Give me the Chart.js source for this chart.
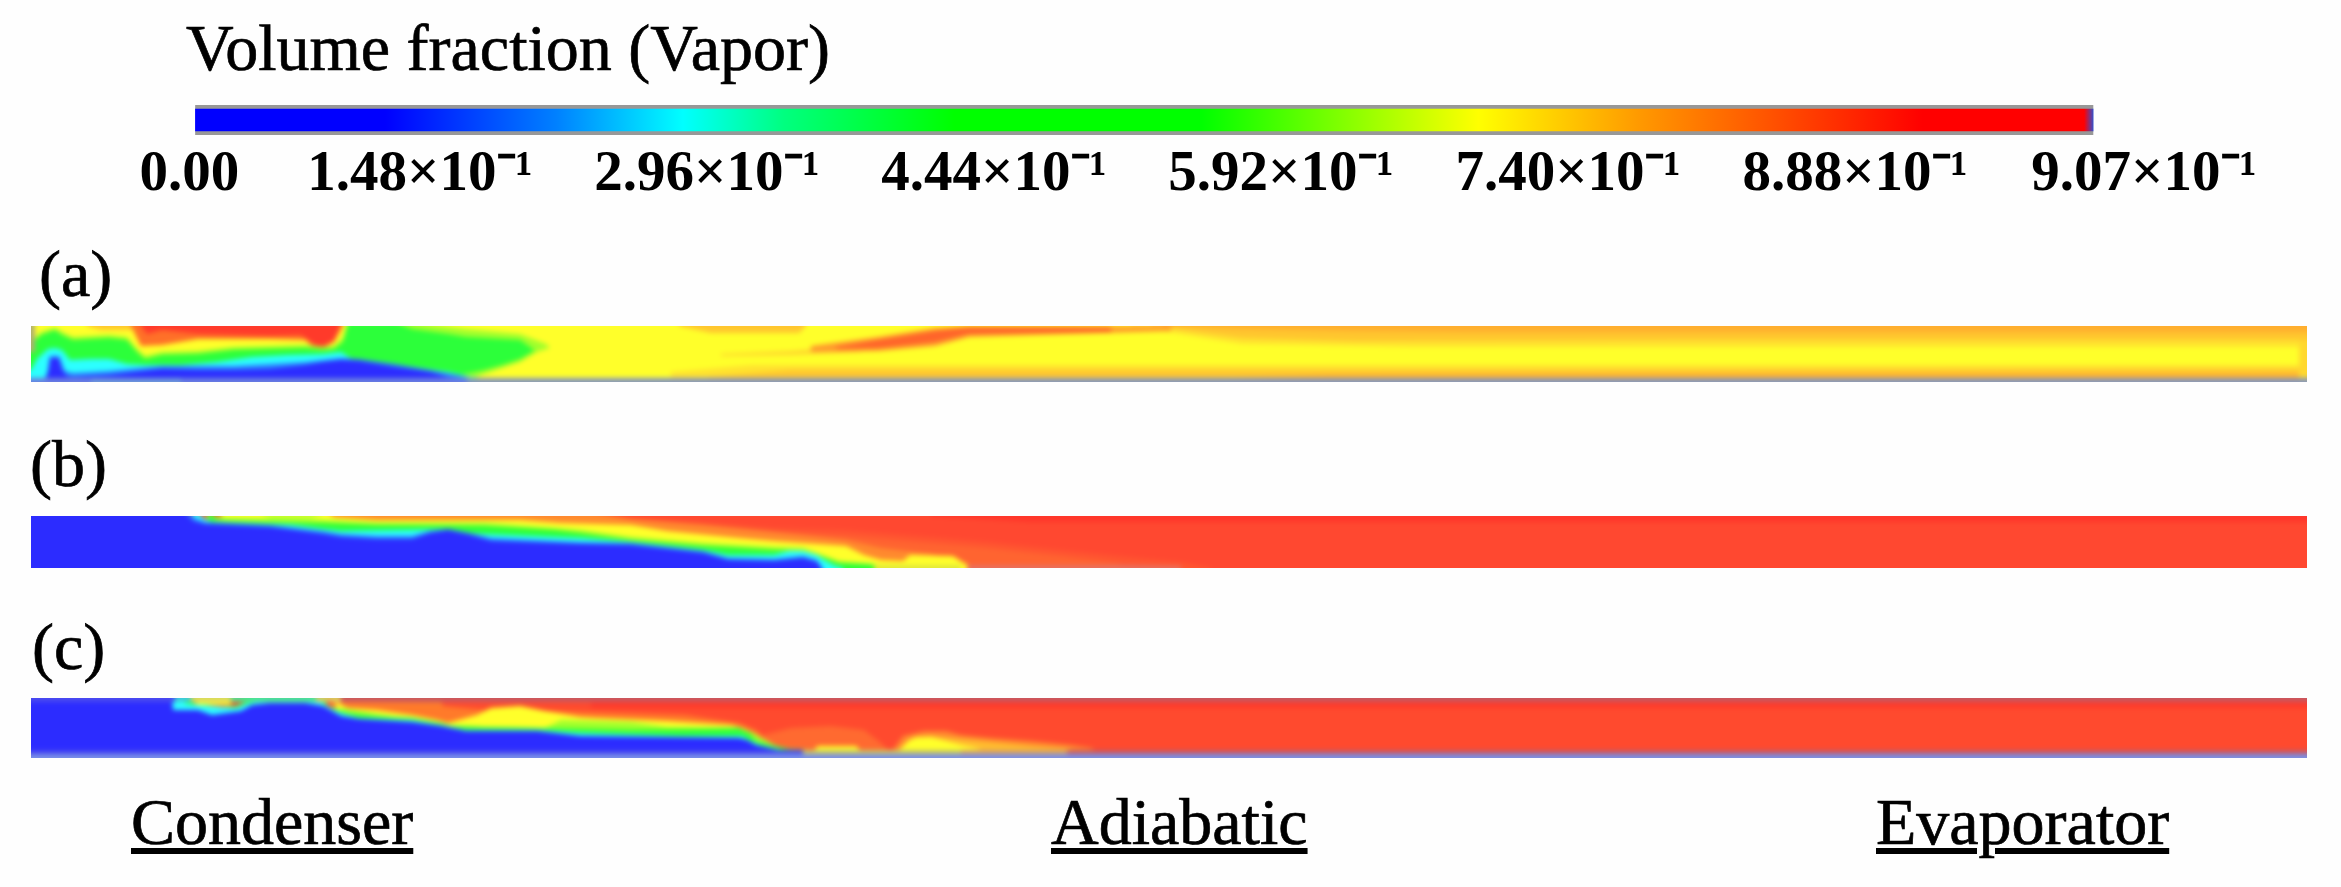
<!DOCTYPE html>
<html lang="en">
<head>
<meta charset="UTF-8">
<title>Volume fraction (Vapor)</title>
<script src="https://cdn.jsdelivr.net/npm/chart.js"></script>
<style>
    body { margin: 0; background: #fefefe; width: 2341px; height: 887px; overflow: hidden; position: relative; }
    .label { position: absolute; font-family: 'Liberation Serif', serif; color: #000; font-size: 66px; line-height: 1; white-space: nowrap; -webkit-text-stroke: 0.7px #000; }
    .strip { position: absolute; overflow: hidden; }
    .strip canvas { position: absolute; left: -8px; top: -8px; filter: blur(2.4px); }
    #colorbar { position: absolute; left: 0; top: 105px; }
</style>
</head>
<body>
<div class="label" style="left:186px;top:15px">Volume fraction (Vapor)</div>
<div class="label" style="left:39px;top:241px">(a)</div>
<div class="label" style="left:30px;top:431px">(b)</div>
<div class="label" style="left:32px;top:614px">(c)</div>
<div class="label" style="left:131px;top:789px"><u>Condenser</u></div>
<div class="label" style="left:1051px;top:789px"><u>Adiabatic</u></div>
<div class="label" style="left:1876px;top:789px"><u>Evaporator</u></div>
<canvas id="colorbar" width="2341" height="95"></canvas>

<script>
// colour bar
const cbLabels = ['0.00', '1.48×10⁻¹', '2.96×10⁻¹', '4.44×10⁻¹', '5.92×10⁻¹', '7.40×10⁻¹', '8.88×10⁻¹', '9.07×10⁻¹'];
const cbTickAt = [0.029, 0.148, 0.296, 0.444, 0.592, 0.740, 0.888, 1.037];
const cbRange = [0.032, 1.011];
const cbStops = [0, 0.10, 0.19, 0.257, 0.31, 0.40, 0.53, 0.676, 0.76, 0.91, 0.995, 1];
const cbColors = ['#0000ff', '#0000ff', '#0080ff', '#00ffff', '#00ff80', '#00ff00', '#00ff00', '#ffff00', '#ff9a00', '#ff0000', '#ff0000', '#3050d0'];

const BLUE = '#2c2cff', SKY = '#2c80ff', CYAN = '#2cffff', GREEN = '#2cff3a', LIME = '#a0ff2c', YELLOW = '#ffff2a';

// strip (a): x = axial position, y = height above the wall
const aBase = [[-8, 70], [2284, 70]];
const aFadeTop3 = [[1100, 56], [1211, 38], [1381, 35], [2284, 35]];
const aFadeTop2 = [[1120, 56], [1211, 44], [1324, 41], [1665, 42], [2284, 42]];
const aFadeTop1 = [[1131, 56], [1211, 53], [1324, 51], [1438, 50], [2284, 50]];
const aSliverMid = [[648, 56], [680, 49], [768, 49], [775, 56]];
const aSliverLeft = [[56, 56], [70, 52], [100, 52], [112, 56]];
const aWedgeUp = [[690, 28], [760, 31], [830, 37]];
const aWedgeLow = [[690, 26], [760, 27], [830, 30]];
const aHaloUp = [[780, 36], [847, 45], [904, 54], [938, 56], [1140, 56]];
const aHaloLow = [[780, 30], [847, 31], [904, 36], [938, 45], [1140, 51]];
const aStreakUp = [[805, 35], [847, 42], [904, 51], [938, 55], [1080, 55]];
const aStreakLow = [[805, 33], [847, 34], [904, 40], [938, 48], [1080, 50]];
const aFadeLow3 = [[640, 10], [720, 17], [1324, 17], [2284, 17]];
const aFadeLow2 = [[677, 5], [760, 12], [1324, 12], [2284, 13]];
const aFadeLow1 = [[1200, 4], [1300, 7], [1665, 8], [2284, 8]];
const aEnd = [[2268, 42], [2284, 42]];
const aOrange = [[100, 56], [110, 36], [131, 37], [167, 43], [203, 43], [239, 43], [274, 42], [282, 35], [292, 34], [303, 40], [312, 56]];
const aRed = [[110, 56], [116, 48], [131, 52], [167, 48], [203, 47], [239, 46], [270, 47], [285, 37], [292, 36], [303, 42], [309, 56]];
const aLime = [[-8, 40], [0, 40], [10, 50], [24, 54], [31, 50], [42, 45], [60, 46], [78, 47], [96, 45], [106, 33], [114, 26], [131, 30], [167, 31], [203, 35], [239, 36], [274, 37], [292, 35], [303, 36], [312, 44], [317, 60], [381, 60], [435, 53], [489, 48], [515, 38], [528, 25], [532, 0]];
const aGreen = [[-8, 38], [0, 38], [10, 47], [24, 52], [31, 47], [42, 42], [60, 43], [78, 44], [96, 42], [106, 30], [114, 23], [131, 27], [167, 28], [203, 32], [239, 33], [274, 34], [292, 32], [303, 33], [312, 40], [317, 60], [364, 60], [381, 53], [417, 48], [435, 45], [489, 42], [506, 30], [512, 0]];
const aLimeLow = [[425, 6], [453, 12], [471, 17], [489, 23], [506, 33], [518, 36], [524, 0]];
const aYellowLow = [[440, 3], [453, 8], [471, 14], [489, 20], [506, 30], [524, 36], [560, 36], [565, 0]];
const aCyan = [[-8, 12], [0, 12], [6, 23], [17, 33], [24, 34], [31, 32], [39, 22], [60, 23], [78, 23], [96, 18], [114, 17], [149, 17], [185, 20], [221, 25], [256, 27], [292, 28], [310, 30], [321, 23], [346, 18], [381, 15], [417, 10], [439, 5], [449, 4], [452, 0]];
const aSky = [[16, 6], [19, 26], [28, 26], [34, 11], [42, 9], [78, 11], [131, 16], [203, 16], [274, 20], [310, 24], [328, 23], [364, 18], [399, 12], [425, 7], [440, 4]];
const aBlue = [[14, 4], [17, 10], [19, 24], [28, 24], [31, 12], [36, 6], [42, 5], [60, 6], [78, 7], [131, 13], [167, 12], [203, 12], [239, 13], [274, 17], [292, 20], [310, 22], [328, 21], [364, 15], [399, 10], [417, 5], [431, 4], [440, 0]];
const aWallLeft = [[-8, 4], [440, 4]];
const aWallMid = [[60, 4], [150, 4]];
const aWallRight = [[436, 4], [2284, 4]];
const aEdgeUp = [[-8, 60], [4, 60]];
const aEdgeLow = [[-8, 30], [4, 30]];

// strip (b)
const bBase = [[-8, 70], [2284, 70]];
const bRedTop = [[900, 52], [1000, 46], [2284, 46]];
const bOrangeFar = [[500, 60], [600, 50], [672, 46], [743, 40], [815, 38], [886, 32], [957, 26], [1029, 18], [1086, 12], [1150, 6], [1180, 0]];
const bOrangeMid = [[520, 60], [600, 47], [672, 42], [743, 36], [815, 32], [886, 26], [957, 20], [1029, 12], [1086, 5], [1100, 0]];
const bOrangeNear = [[285, 60], [540, 60], [600, 49], [672, 43], [743, 36], [815, 28], [850, 20], [900, 14], [945, 0]];
const bYellow = [[190, 60], [292, 60], [303, 51], [346, 48], [417, 48], [489, 48], [529, 45], [600, 43], [636, 37], [708, 30], [743, 27], [815, 22], [833, 13], [850, 8], [872, 7], [879, 13], [922, 12], [933, 5], [945, 0]];
const bTopLime = [[230, 54], [240, 49], [280, 49], [292, 54]];
const bLime = [[176, 60], [184, 52], [195, 50], [292, 48], [346, 45], [453, 45], [524, 40], [549, 38], [600, 31], [672, 25], [708, 23], [743, 21], [772, 20], [786, 15], [808, 7], [850, 3], [870, 0]];
const bGreen = [[178, 60], [184, 48], [196, 47], [292, 45], [346, 43], [453, 42], [524, 38], [549, 35], [600, 28], [672, 22], [708, 20], [743, 18], [772, 17], [786, 13], [808, 5], [836, 4], [850, 2], [860, 0]];
const bCyan = [[162, 60], [174, 49], [181, 46], [260, 43], [292, 39], [310, 37], [381, 38], [417, 39], [439, 35], [453, 34], [549, 30], [600, 26], [672, 18], [697, 13], [743, 13], [758, 17], [772, 17], [786, 13], [793, 8], [804, 2], [812, 0]];
const bSky = [[154, 60], [164, 50], [174, 46], [239, 43], [292, 37], [310, 34], [346, 32], [381, 32], [399, 37], [417, 39], [439, 35], [460, 30], [549, 26], [600, 25], [672, 17], [697, 10], [743, 9], [772, 12], [786, 8], [792, 0]];
const bBlue = [[-8, 60], [150, 60], [162, 47], [174, 44], [239, 41], [292, 34], [310, 31], [346, 29], [381, 29], [399, 35], [417, 38], [439, 33], [460, 27], [549, 24], [600, 23], [672, 15], [697, 8], [743, 7], [772, 10], [786, 6], [790, 0]];
const bSand = [[843, 3], [930, 3]];
const bWall = [[936, 3], [1090, 3], [1150, 2]];

// strip (c)
const cBase = [[-8, 70], [2284, 70]];
const cRedTop = [[560, 50], [2284, 50]];
const cOrange = [[300, 70], [405, 70], [412, 52], [453, 48], [529, 47], [654, 43], [708, 35], [725, 28], [743, 14], [760, 0]];
const cBlobFar = [[720, 20], [760, 30], [800, 32], [833, 28], [850, 15], [865, 0]];
const cLobeOrange = [[862, 8], [872, 22], [893, 27], [915, 27], [930, 23], [960, 20], [1000, 17], [1040, 13], [1060, 10], [1070, 5]];
const cLobeAmber = [[870, 8], [880, 20], [900, 22], [930, 19], [1000, 12], [1040, 9], [1045, 5]];
const cLobeYellow = [[868, 8], [877, 17], [886, 21], [900, 21], [915, 17], [930, 13], [945, 10], [960, 5]];
const cPatchYellow = [[780, 5], [787, 12], [825, 12], [832, 5]];
const cYellow = [[305, 56], [317, 50], [346, 48], [381, 43], [406, 38], [417, 35], [446, 43], [460, 50], [489, 52], [514, 47], [549, 41], [565, 40], [636, 37], [700, 33], [711, 30], [722, 25], [743, 13], [750, 10], [756, 0]];
const cLime = [[310, 50], [346, 44], [381, 38], [417, 33], [453, 31], [514, 30], [530, 38], [600, 36], [636, 31], [700, 30], [720, 26], [740, 14], [752, 8], [758, 0]];
const cGreen = [[148, 70], [156, 60], [165, 54], [190, 51], [205, 52], [215, 56], [222, 70], [290, 70], [296, 52], [317, 45], [346, 42], [381, 40], [410, 35], [420, 32], [453, 31], [510, 30], [600, 28], [672, 29], [708, 30], [718, 25], [725, 17], [740, 13], [758, 9], [779, 8], [790, 0]];
const cLensUp = [[165, 56], [200, 56]];
const cLensLow = [[165, 53], [200, 53]];
const cCyan = [[140, 70], [155, 54], [181, 52], [205, 50], [215, 54], [225, 56], [290, 56], [296, 52], [303, 48], [310, 45], [328, 40], [381, 38], [410, 33], [435, 28], [506, 28], [549, 25], [650, 22], [711, 22], [718, 18], [729, 13], [750, 8], [772, 4], [780, 0]];
const cBlue = [[-8, 70], [140, 70], [142, 48], [167, 48], [181, 43], [210, 47], [221, 53], [239, 55], [274, 55], [292, 52], [310, 42], [328, 39], [381, 36], [410, 32], [435, 27], [506, 27], [549, 22], [708, 20], [716, 18], [725, 13], [743, 9], [758, 5], [770, 0]];
const cBandOlive = [[772, 8], [930, 8]];
const cBandSand = [[930, 8], [1040, 8]];
const cBandRed = [[1036, 8], [2284, 8]];
const cBandBlue = [[-8, 8], [772, 8]];
const cFoot = [[-8, 4], [2284, 4]];
const cCapBlue = [[-8, 56], [144, 56]];
const cCapCyan = [[144, 56], [160, 56]];
const cCapOlive = [[160, 56], [200, 56]];
const cCapTeal = [[200, 56], [285, 56]];
const cCapOlive2 = [[285, 56], [310, 56]];
const cCapRed = [[310, 56], [2284, 56]];

// each layer: colour, boundary, then what it fills to ('start', 'end' or a second boundary)
const aLayers = [
    [YELLOW, aBase, 'start'],
    ['#ffe22e', aFadeTop3, 'end'], ['#ffc62e', aFadeTop2, 'end'], ['#ffae2e', aFadeTop1, 'end'],
    ['#ffc62e', aSliverMid, 'end'], ['#ffc62e', aSliverLeft, 'end'],
    ['#ffd42e', aWedgeUp, aWedgeLow], ['#ff9a2c', aHaloUp, aHaloLow], ['#ff642a', aStreakUp, aStreakLow],
    ['#ffe22e', aFadeLow3, 'start'], ['#ffc62e', aFadeLow2, 'start'], ['#ffae2e', aFadeLow1, 'start'],
    ['#ffd82e', aEnd, 'start'],
    ['#ff7028', aOrange, 'end'], ['#ff3a2a', aRed, 'end'],
    [LIME, aLime, 'start'], [GREEN, aGreen, 'start'], [LIME, aLimeLow, 'start'], [YELLOW, aYellowLow, 'start'],
    [CYAN, aCyan, 'start'], [SKY, aSky, 'start'], [BLUE, aBlue, 'start'],
    ['#6a7fe0', aWallLeft, 'start'], ['#6f9ad8', aWallMid, 'start'], ['#8899bb', aWallRight, 'start'],
    ['#b0b070', aEdgeUp, aEdgeLow]
];
const bLayers = [
    ['#ff4830', bBase, 'start'], ['#ff362a', bRedTop, 'end'],
    ['#ff5530', bOrangeFar, 'start'], ['#ff6430', bOrangeMid, 'start'], ['#ff8a2e', bOrangeNear, 'start'],
    [YELLOW, bYellow, 'start'], ['#c8ff2c', bTopLime, 'end'],
    [LIME, bLime, 'start'], [GREEN, bGreen, 'start'], [CYAN, bCyan, 'start'], [SKY, bSky, 'start'], [BLUE, bBlue, 'start'],
    ['#e0e83a', bSand, 'start'], ['#e87060', bWall, 'start']
];
const cLayers = [
    ['#ff4a2e', cBase, 'start'], ['#ff3a2a', cRedTop, 'end'],
    ['#ff7a2a', cOrange, 'start'], ['#ff6a30', cBlobFar, 'start'],
    ['#ff8a2e', cLobeOrange, 'start'], ['#ffbc2e', cLobeAmber, 'start'], [YELLOW, cLobeYellow, 'start'], [YELLOW, cPatchYellow, 'start'],
    [YELLOW, cYellow, 'start'], [LIME, cLime, 'start'], [GREEN, cGreen, 'start'], [YELLOW, cLensUp, cLensLow],
    [CYAN, cCyan, 'start'], [BLUE, cBlue, 'start'],
    ['#4444f0', cBandBlue, 'start'], ['#c8c860', cBandOlive, 'start'], ['#d8a060', cBandSand, 'start'], ['#c85860', cBandRed, 'start'],
    ['#7a90e8', cFoot, 'start'],
    ['#4a4af0', cCapBlue, 'end'], ['#40c8d8', cCapCyan, 'end'], ['#d8d860', cCapOlive, 'end'], ['#50e090', cCapTeal, 'end'], ['#d8c860', cCapOlive2, 'end'], ['#c85860', cCapRed, 'end']
];

Chart.defaults.animation = false;

// draws one pipe section; the canvas is 8px larger than the visible box so the blur has no soft edge
function drawStrip(top, height, layers) {
    const box = document.createElement('div');
    box.className = 'strip';
    box.style.cssText = 'left:31px;top:' + top + 'px;width:2276px;height:' + height + 'px';
    const canvas = document.createElement('canvas');
    canvas.width = 2292;
    canvas.height = height + 16;
    box.appendChild(canvas);
    document.body.appendChild(box);

    // Chart.js paints the first dataset last, so go through the layers backwards
    const datasets = [];
    const line = { type: 'scatter', showLine: true, borderWidth: 0, pointRadius: 0 };
    layers.slice().reverse().forEach(([color, edge, to]) => {
        if (typeof to === 'string') {
            datasets.push({ ...line, data: edge.map(([x, y]) => ({ x, y })), fill: to, backgroundColor: color });
        } else {
            datasets.push({ ...line, data: edge.map(([x, y]) => ({ x, y })), fill: '+1', backgroundColor: color });
            datasets.push({ ...line, data: to.map(([x, y]) => ({ x, y })), fill: false });
        }
    });

    new Chart(canvas, {
        type: 'scatter',
        data: { datasets },
        options: {
            responsive: false,
            layout: { padding: 0 },
            plugins: { legend: { display: false }, tooltip: { enabled: false } },
            scales: {
                x: { type: 'linear', display: false, min: -8, max: 2284 },
                y: { type: 'linear', display: false, min: -8, max: height + 8 }
            }
        }
    });
}

drawStrip(326, 56, aLayers);
drawStrip(516, 52, bLayers);
drawStrip(698, 60, cLayers);

new Chart(document.getElementById('colorbar'), {
    type: 'bar',
    data: {
        labels: ['Vapor'],
        datasets: [{
            data: [cbRange],
            barPercentage: 1,
            categoryPercentage: 1,
            borderWidth: { top: 4, bottom: 4, left: 0, right: 0 },
            borderSkipped: false,
            borderColor: 'rgba(0,0,0,0.4)',
            backgroundColor: (ctx) => {
                const { chart } = ctx;
                if (!chart.chartArea) return '#0000ff';
                const sx = chart.scales.x;
                const g = chart.ctx.createLinearGradient(sx.getPixelForValue(cbRange[0]), 0, sx.getPixelForValue(cbRange[1]), 0);
                cbStops.forEach((s, i) => g.addColorStop(s, cbColors[i]));
                return g;
            }
        }]
    },
    options: {
        indexAxis: 'y',
        responsive: false,
        layout: { padding: 0 },
        plugins: { legend: { display: false }, tooltip: { enabled: false } },
        scales: {
            y: { display: false },
            x: {
                type: 'linear',
                min: -0.0686,
                max: 1.1386,
                grid: { display: false, drawTicks: false },
                border: { display: false },
                afterBuildTicks: (scale) => { scale.ticks = cbTickAt.map((value) => ({ value })); },
                afterFit: (scale) => { scale.height = 65; },
                ticks: {
                    autoSkip: false,
                    maxRotation: 0,
                    padding: 6,
                    color: '#000',
                    font: { family: "'Liberation Serif', serif", size: 57, weight: 'bold' },
                    callback: (value, index) => cbLabels[index]
                }
            }
        }
    }
});
</script>
</body>
</html>
